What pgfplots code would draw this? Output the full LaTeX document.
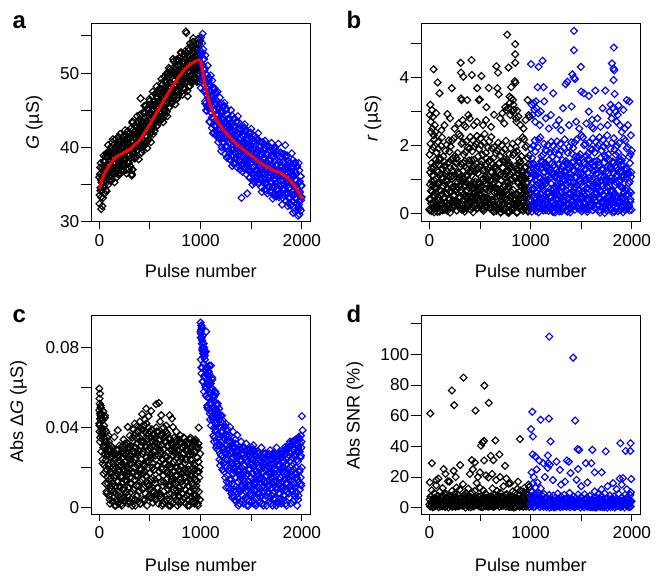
\documentclass[border=0pt]{standalone}
\usepackage{fontspec}
\setmainfont{Liberation Sans}
\usepackage{pgfplots}
\usepackage{pgfplotstable}
\pgfplotsset{compat=1.18}

\pgfplotsset{
  panel/.style={
    scale only axis, width=218.3bp, height=198.4bp, anchor=south west,
    xmin=-75, xmax=2080,
    xtick={0,500,...,2000}, xticklabels={0,,1000,,2000},
    xtick pos=bottom, ytick pos=left, tick align=outside,
    major tick length=9bp,
    xtick style={/pgfplots/major tick length=7bp},
    ytick style={/pgfplots/major tick length=11bp},
    axis line style={line width=0.9bp},
    tick style={line width=0.9bp, black},
    tick label style={font=\fontsize{17.3}{20}\selectfont},
    label style={font=\fontsize{18.2}{22}\selectfont},
    /pgf/number format/assume math mode=true,
    xlabel={Pulse number},
    ylabel style={anchor=center},
    clip marker paths=true,
  },
  dots/.style={only marks, mark=square, mark size=2.45bp,
    mark options={rotate=45, line width=1.15bp}},
}

\begin{document}
% a: conductance, potentiation (black) and depression (blue); two interleaved samplings
\pgfplotstableread[row sep=\\,header=false]{
36.0\\33.6\\37.3\\34.6\\35.6\\31.7\\36.3\\34.2\\35.2\\33.2\\
36.1\\38.1\\34.7\\37.4\\36.4\\38.8\\35.5\\36.9\\34.1\\37.7\\
38.8\\36.9\\37.6\\35.6\\39.5\\36.6\\38.1\\36.2\\39.2\\37.3\\
37.1\\38.5\\40.7\\37.4\\36.6\\39.2\\38.0\\39.6\\37.7\\38.9\\
39.1\\36.5\\39.9\\39.3\\37.3\\38.8\\40.5\\38.1\\37.7\\40.8\\
39.8\\37.8\\40.9\\38.7\\39.5\\36.9\\40.1\\38.3\\39.2\\37.5\\
39.0\\41.0\\37.6\\40.3\\39.3\\41.7\\38.4\\39.8\\37.0\\40.6\\
41.1\\39.2\\39.9\\37.9\\41.8\\38.9\\40.4\\38.5\\41.5\\39.6\\
36.2\\37.0\\43.5\\39.5\\38.6\\41.7\\40.3\\42.2\\39.9\\41.3\\
41.8\\38.7\\42.7\\42.0\\39.6\\41.4\\43.5\\40.6\\40.1\\43.8\\
43.0\\40.4\\46.6\\41.6\\42.7\\39.3\\43.4\\41.1\\42.3\\40.1\\
42.3\\44.7\\40.6\\43.9\\42.7\\45.6\\41.6\\43.3\\39.9\\44.2\\
45.3\\42.8\\43.7\\41.1\\46.2\\42.4\\44.4\\41.9\\45.8\\43.3\\
43.2\\44.9\\47.5\\43.5\\42.6\\45.7\\44.3\\46.2\\43.9\\45.3\\
45.9\\42.8\\46.8\\46.1\\43.7\\45.5\\47.6\\44.7\\44.2\\47.9\\
47.3\\44.9\\48.6\\45.9\\46.9\\43.8\\47.6\\45.5\\46.5\\44.5\\
46.6\\49.0\\44.9\\48.2\\47.0\\49.9\\45.9\\47.6\\44.2\\48.5\\
49.6\\47.1\\48.0\\45.4\\50.5\\46.7\\48.7\\46.2\\50.1\\47.6\\
47.3\\49.1\\51.9\\47.7\\46.6\\50.0\\48.4\\50.5\\48.1\\49.6\\
49.9\\46.5\\51.0\\50.2\\47.6\\49.5\\51.7\\48.6\\48.1\\52.1\\
51.1\\48.3\\52.7\\49.6\\50.7\\47.1\\51.5\\49.0\\50.3\\47.9\\
49.9\\52.9\\47.8\\51.9\\50.4\\55.4\\49.0\\51.1\\46.9\\52.3\\
53.0\\50.1\\51.2\\48.2\\54.0\\49.7\\51.9\\49.1\\53.6\\50.7\\
50.0\\51.8\\54.7\\50.4\\49.3\\52.7\\51.1\\53.2\\50.8\\52.3\\
52.2\\48.8\\53.3\\52.5\\49.9\\51.8\\54.0\\50.9\\50.4\\54.4\\
}\aBlk
\pgfplotstableread[row sep=\\,header=false]{
32.4\\36.4\\34.2\\37.9\\33.3\\35.3\\37.2\\32.1\\36.0\\34.6\\
38.9\\34.6\\37.2\\33.8\\38.1\\36.4\\34.2\\39.2\\35.3\\37.4\\
36.6\\40.3\\35.0\\37.7\\39.4\\36.1\\38.3\\35.5\\40.0\\36.9\\
35.6\\39.6\\37.4\\41.1\\36.5\\38.5\\40.4\\35.3\\39.2\\37.8\\
41.1\\36.8\\39.4\\36.0\\40.3\\38.6\\36.4\\41.4\\37.5\\39.6\\
38.1\\41.8\\36.5\\39.2\\40.9\\37.6\\39.8\\37.0\\41.5\\38.4\\
36.8\\40.8\\38.6\\42.3\\37.7\\39.7\\41.6\\36.5\\40.4\\39.0\\
42.2\\37.9\\40.5\\37.1\\41.4\\39.7\\37.5\\42.5\\38.6\\40.7\\
36.4\\43.3\\37.0\\40.7\\42.4\\39.1\\41.3\\38.5\\43.0\\39.9\\
38.7\\42.7\\40.5\\44.2\\39.6\\41.6\\43.5\\38.4\\42.3\\40.9\\
44.4\\40.1\\42.7\\39.3\\43.6\\41.9\\39.7\\44.7\\40.8\\42.9\\
41.9\\45.6\\40.3\\43.0\\44.7\\41.4\\43.6\\40.8\\45.3\\42.2\\
41.0\\45.0\\42.8\\46.5\\41.9\\43.9\\45.8\\40.7\\44.6\\43.2\\
46.9\\42.6\\45.2\\41.8\\46.1\\44.4\\42.2\\47.2\\43.3\\45.4\\
44.5\\48.2\\42.9\\45.6\\47.3\\44.0\\46.2\\43.4\\47.9\\44.8\\
43.7\\47.7\\45.5\\49.2\\44.6\\46.6\\48.5\\43.4\\47.3\\45.9\\
49.5\\45.2\\47.8\\44.4\\48.7\\47.0\\44.8\\49.8\\45.9\\48.0\\
47.0\\50.7\\45.4\\48.1\\49.8\\46.5\\48.7\\45.9\\50.4\\47.3\\
46.1\\50.1\\47.9\\51.6\\47.0\\49.0\\50.9\\45.8\\49.7\\48.3\\
51.8\\47.5\\50.1\\46.7\\51.0\\49.3\\47.1\\52.1\\48.2\\50.3\\
49.1\\52.8\\47.5\\50.2\\51.9\\48.6\\50.8\\48.0\\52.5\\49.4\\
47.9\\51.9\\49.7\\55.6\\48.8\\50.8\\52.7\\47.6\\51.5\\50.1\\
53.4\\49.1\\51.7\\48.3\\52.6\\50.9\\48.7\\53.7\\49.8\\51.9\\
50.5\\54.2\\48.9\\51.6\\53.3\\50.0\\52.2\\49.4\\53.9\\50.8\\
49.1\\53.1\\50.9\\54.6\\50.0\\52.0\\53.9\\48.8\\52.7\\51.3\\
}\aBlkB
\pgfplotstableread[row sep=\\,header=false]{
53.0\\54.8\\51.2\\52.6\\50.1\\55.3\\49.6\\51.9\\48.4\\50.7\\
49.2\\46.2\\52.4\\47.6\\48.8\\44.9\\49.7\\47.0\\48.3\\45.8\\
45.6\\48.6\\43.5\\47.6\\46.1\\49.7\\44.7\\46.8\\42.6\\48.0\\
46.8\\43.9\\45.0\\42.0\\47.8\\43.5\\45.7\\42.9\\47.4\\44.5\\
42.1\\44.2\\47.5\\42.5\\41.3\\45.2\\43.4\\45.8\\43.0\\44.8\\
43.4\\39.5\\44.6\\43.7\\40.7\\43.0\\45.5\\41.9\\41.3\\46.0\\
43.3\\40.1\\45.0\\41.5\\42.8\\38.6\\43.8\\40.9\\42.3\\39.6\\
40.7\\43.9\\38.4\\42.7\\41.1\\45.0\\39.7\\41.9\\37.5\\43.2\\
42.8\\39.7\\40.9\\37.7\\43.9\\39.3\\41.7\\38.6\\43.4\\40.4\\
38.4\\40.7\\44.2\\38.9\\37.6\\41.8\\39.9\\42.4\\39.4\\41.3\\
40.3\\33.2\\41.6\\40.7\\37.5\\39.9\\42.6\\38.7\\38.1\\43.1\\
40.5\\37.3\\42.2\\38.7\\40.0\\33.8\\41.0\\38.1\\39.5\\36.8\\
38.2\\41.4\\35.9\\40.2\\38.6\\42.5\\37.2\\39.4\\35.0\\40.7\\
40.4\\37.3\\38.5\\35.3\\41.5\\36.9\\39.3\\36.2\\41.0\\38.0\\
36.1\\38.4\\41.9\\36.6\\35.3\\39.5\\37.6\\40.1\\37.1\\39.0\\
38.1\\34.0\\39.4\\38.5\\35.3\\37.7\\40.4\\36.5\\35.9\\40.9\\
38.5\\35.3\\40.2\\36.7\\38.0\\33.8\\39.0\\36.1\\37.5\\34.8\\
36.3\\39.5\\34.0\\38.3\\36.7\\40.6\\35.3\\37.5\\33.1\\38.8\\
38.8\\35.6\\36.8\\33.4\\40.0\\35.1\\37.6\\34.4\\39.5\\36.3\\
34.4\\36.8\\40.5\\34.9\\33.6\\38.0\\36.0\\38.7\\35.5\\37.5\\
36.7\\32.3\\38.0\\37.0\\33.6\\36.2\\39.1\\35.0\\34.3\\40.3\\
37.1\\33.7\\38.9\\35.2\\36.6\\32.1\\37.6\\34.5\\36.0\\33.1\\
34.6\\38.0\\32.2\\36.8\\35.1\\39.2\\33.6\\36.0\\31.2\\37.3\\
36.8\\33.6\\34.8\\31.4\\38.0\\33.1\\35.6\\32.4\\37.5\\34.3\\
31.8\\34.2\\37.9\\32.3\\31.0\\35.4\\33.4\\36.1\\32.9\\34.9\\
}\aBlu
\pgfplotstableread[row sep=\\,header=false]{
48.0\\52.3\\50.0\\54.0\\49.0\\51.1\\53.2\\47.6\\51.9\\50.4\\
50.6\\45.9\\48.8\\45.0\\49.8\\47.9\\45.5\\51.0\\46.7\\49.0\\
45.2\\49.3\\43.4\\46.4\\48.3\\44.7\\47.1\\44.0\\49.0\\45.5\\
41.9\\46.3\\43.9\\48.0\\42.9\\45.1\\47.2\\41.6\\45.9\\44.4\\
46.3\\41.6\\44.5\\40.7\\45.5\\43.6\\41.2\\46.7\\42.4\\44.7\\
41.8\\45.9\\40.0\\43.0\\44.9\\41.3\\43.7\\40.6\\45.6\\42.1\\
39.1\\43.5\\41.1\\45.2\\40.1\\42.3\\44.4\\38.8\\43.1\\41.6\\
43.9\\39.2\\42.1\\38.3\\43.1\\41.2\\38.8\\44.3\\40.0\\42.3\\
39.7\\43.8\\37.9\\40.9\\42.8\\39.2\\41.6\\38.5\\43.5\\40.0\\
37.3\\41.7\\39.3\\43.4\\38.3\\40.5\\42.6\\37.0\\41.3\\39.8\\
42.3\\37.6\\40.5\\36.7\\41.5\\39.6\\37.2\\42.7\\38.4\\40.7\\
38.2\\42.3\\36.4\\39.4\\41.3\\37.7\\40.1\\37.0\\42.0\\38.5\\
35.9\\40.3\\37.9\\42.0\\36.9\\39.1\\41.2\\35.6\\39.9\\38.4\\
40.9\\36.2\\39.1\\35.3\\40.1\\38.2\\35.8\\41.3\\37.0\\39.3\\
36.9\\41.0\\35.1\\38.1\\40.0\\36.4\\38.8\\35.7\\40.7\\37.2\\
34.6\\39.0\\36.6\\40.7\\35.6\\37.8\\39.9\\34.3\\38.6\\37.1\\
39.8\\35.1\\38.0\\34.2\\39.0\\37.1\\34.7\\40.2\\35.9\\38.2\\
35.9\\40.0\\34.1\\37.1\\39.0\\35.4\\37.8\\34.7\\39.7\\36.2\\
33.7\\38.1\\35.7\\39.8\\34.7\\36.9\\39.0\\33.4\\37.7\\36.2\\
38.9\\34.2\\37.1\\33.3\\38.1\\36.2\\33.8\\39.3\\35.0\\37.3\\
35.0\\39.1\\33.2\\36.2\\38.1\\34.5\\36.9\\33.8\\38.8\\35.3\\
32.8\\37.2\\34.8\\38.9\\33.8\\36.0\\38.1\\32.5\\36.8\\35.3\\
37.9\\33.2\\36.1\\32.3\\37.1\\35.2\\32.8\\38.3\\34.0\\36.3\\
33.6\\37.7\\31.8\\34.8\\36.7\\33.1\\35.5\\32.4\\37.4\\33.9\\
30.8\\35.2\\32.8\\36.9\\31.8\\34.0\\36.1\\31.5\\34.8\\33.3\\
}\aBluB
% b: r (uS)
\pgfplotstableread[row sep=\\,header=false]{
0.42\\1.73\\0.08\\1.21\\2.05\\0.66\\0.29\\1.48\\0.95\\1.87\\
1.12\\0.17\\0.83\\1.95\\0.51\\1.36\\0.03\\2.18\\0.74\\0.35\\
0.61\\1.58\\1.02\\0.24\\1.79\\0.12\\1.27\\0.88\\2.11\\0.47\\
1.91\\0.38\\1.44\\0.69\\0.05\\1.63\\0.92\\0.21\\1.16\\1.99\\
0.27\\1.05\\2.24\\0.56\\1.31\\0.81\\1.68\\0.14\\0.45\\1.52\\
0.89\\0.11\\1.39\\1.84\\0.33\\0.98\\0.58\\2.02\\1.25\\0.07\\
1.47\\0.72\\0.19\\1.11\\2.15\\0.39\\1.82\\0.64\\0.26\\1.34\\
1.97\\0.85\\1.58\\0.19\\0.76\\2.15\\1.11\\0.18\\1.63\\0.52\\
0.37\\2.21\\0.78\\1.37\\0.22\\1.69\\0.34\\1.12\\1.48\\0.71\\
1.62\\0.35\\0.24\\1.78\\0.91\\1.21\\0.46\\2.34\\1.15\\0.17\\
0.45\\0.84\\2.28\\0.13\\1.46\\0.61\\2.05\\0.93\\0.27\\1.02\\
2.09\\1.26\\0.11\\1.02\\1.73\\0.15\\0.79\\1.54\\0.48\\1.81\\
0.17\\1.35\\2.12\\0.68\\1.08\\0.43\\1.94\\1.29\\0.21\\0.99\\
1.44\\0.36\\0.74\\1.92\\0.49\\2.25\\1.21\\0.29\\0.82\\1.57\\
0.52\\1.83\\0.18\\1.31\\2.15\\0.56\\0.39\\1.58\\0.85\\1.97\\
1.22\\0.27\\0.93\\2.05\\0.41\\1.46\\0.13\\2.28\\0.64\\0.45\\
0.71\\1.68\\0.92\\0.34\\1.89\\0.22\\1.37\\0.78\\2.21\\0.57\\
2.01\\0.28\\1.54\\0.79\\0.15\\1.73\\1.02\\0.11\\1.26\\2.09\\
0.37\\0.95\\2.34\\0.46\\1.41\\0.71\\1.78\\0.24\\0.35\\1.62\\
0.99\\0.21\\1.29\\1.94\\0.43\\1.08\\0.68\\2.12\\1.35\\0.17\\
1.57\\0.82\\0.29\\1.21\\2.25\\0.49\\1.92\\0.74\\0.36\\1.44\\
0.32\\1.63\\0.04\\1.11\\1.95\\0.76\\0.19\\1.38\\1.05\\1.77\\
1.02\\0.07\\0.73\\1.85\\0.61\\1.26\\0.13\\2.08\\0.84\\0.25\\
0.51\\1.48\\1.12\\0.14\\1.69\\0.02\\1.17\\0.98\\2.01\\0.37\\
1.81\\0.48\\1.34\\0.59\\0.09\\1.53\\0.82\\0.31\\1.06\\1.89\\
0.17\\1.15\\2.14\\0.66\\1.21\\0.91\\1.58\\0.04\\0.55\\1.42\\
0.79\\0.01\\1.49\\1.74\\0.23\\0.88\\0.48\\1.92\\1.15\\0.12\\
1.37\\0.62\\0.09\\1.01\\2.05\\0.29\\1.72\\0.54\\0.16\\1.24\\
1.77\\1.05\\1.38\\0.39\\0.56\\1.95\\1.31\\0.02\\1.83\\0.32\\
0.27\\2.11\\0.88\\1.27\\0.32\\1.59\\0.44\\1.02\\1.38\\0.81\\
1.52\\0.45\\0.14\\1.68\\1.01\\1.11\\0.56\\2.24\\1.25\\0.07\\
0.35\\0.74\\2.18\\0.23\\1.36\\0.71\\1.95\\1.03\\0.17\\1.12\\
1.99\\1.16\\0.21\\0.92\\1.63\\0.05\\0.69\\1.44\\0.38\\1.71\\
0.57\\1.25\\0.14\\
}\bBlk
\pgfplotstableread[row sep=\\,header=false]{
0.12\\0.85\\0.41\\1.33\\0.06\\0.64\\1.12\\0.28\\0.97\\0.51\\
1.45\\0.19\\0.73\\0.04\\1.21\\0.38\\0.88\\1.58\\0.23\\0.67\\
0.31\\1.02\\0.09\\0.79\\1.39\\0.47\\0.15\\1.17\\0.58\\0.93\\
0.71\\0.26\\1.51\\0.44\\0.02\\1.08\\0.63\\0.35\\1.27\\0.17\\
1.06\\0.53\\0.21\\0.91\\1.62\\0.08\\0.77\\0.33\\1.19\\0.46\\
0.24\\1.37\\0.68\\0.11\\0.95\\0.39\\1.48\\0.57\\0.05\\0.83\\
0.92\\0.14\\1.14\\0.49\\0.29\\1.56\\0.36\\0.81\\0.10\\1.25\\
0.43\\0.75\\0.03\\1.41\\0.62\\0.20\\1.03\\0.54\\1.31\\0.16\\
1.18\\0.37\\0.87\\0.22\\0.70\\1.44\\0.13\\0.98\\0.48\\0.07\\
0.59\\1.29\\0.32\\1.07\\0.18\\0.84\\0.45\\1.53\\0.27\\0.74\\
0.14\\0.96\\1.23\\0.40\\0.86\\0.09\\1.35\\0.61\\0.25\\1.10\\
1.33\\0.50\\0.18\\0.72\\1.47\\0.30\\0.66\\0.04\\1.16\\0.55\\
0.26\\1.11\\0.63\\1.59\\0.12\\0.80\\0.42\\1.26\\0.34\\0.90\\
0.78\\0.06\\1.40\\0.35\\0.99\\0.52\\0.17\\1.20\\0.69\\0.28\\
1.09\\0.44\\0.24\\1.30\\0.58\\0.03\\0.92\\0.38\\1.50\\0.65\\
0.21\\1.24\\0.76\\0.11\\1.05\\0.47\\0.82\\0.15\\1.36\\0.56\\
0.89\\0.31\\1.15\\0.08\\0.60\\
}\bBlkB
\pgfplotstableread[row sep=\\,header=false]{
1.91\\0.38\\1.44\\0.69\\0.05\\1.63\\0.92\\0.21\\1.16\\1.99\\
1.47\\0.72\\0.19\\1.11\\2.15\\0.39\\1.82\\0.64\\0.26\\1.34\\
1.12\\0.17\\0.83\\1.95\\0.51\\1.36\\0.03\\2.18\\0.74\\0.35\\
0.27\\1.05\\2.24\\0.56\\1.31\\0.81\\1.68\\0.14\\0.45\\1.52\\
0.42\\1.73\\0.08\\1.21\\2.05\\0.66\\0.29\\1.48\\0.95\\1.87\\
0.89\\0.11\\1.39\\1.84\\0.33\\0.98\\0.58\\2.02\\1.25\\0.07\\
0.61\\1.58\\1.02\\0.24\\1.79\\0.12\\1.27\\0.88\\2.11\\0.47\\
0.36\\1.67\\0.06\\1.15\\1.99\\0.72\\0.23\\1.42\\1.09\\1.81\\
1.06\\0.03\\0.77\\1.89\\0.57\\1.30\\0.17\\2.12\\0.88\\0.21\\
0.55\\1.44\\1.16\\0.10\\1.73\\0.06\\1.13\\1.02\\2.05\\0.33\\
1.85\\0.44\\1.30\\0.63\\0.13\\1.57\\0.78\\0.35\\1.02\\1.93\\
0.21\\1.11\\2.18\\0.62\\1.25\\0.87\\1.54\\0.08\\0.51\\1.46\\
0.83\\0.05\\1.45\\1.78\\0.27\\0.92\\0.44\\1.96\\1.19\\0.16\\
1.41\\0.58\\0.13\\1.05\\2.09\\0.25\\1.76\\0.50\\0.20\\1.28\\
1.93\\0.91\\1.52\\0.25\\0.70\\2.09\\1.07\\0.22\\1.67\\0.48\\
0.41\\2.17\\0.82\\1.41\\0.18\\1.65\\0.38\\1.16\\1.52\\0.67\\
1.66\\0.31\\0.28\\1.74\\0.95\\1.17\\0.50\\2.30\\1.19\\0.13\\
0.49\\0.80\\2.24\\0.17\\1.50\\0.57\\2.01\\0.97\\0.31\\1.06\\
2.05\\1.30\\0.15\\0.98\\1.69\\0.11\\0.75\\1.58\\0.44\\1.77\\
0.13\\1.39\\2.08\\0.72\\1.04\\0.47\\1.90\\1.33\\0.25\\0.95\\
1.48\\0.32\\0.78\\1.88\\0.53\\2.21\\1.25\\0.25\\0.86\\1.53\\
0.58\\1.79\\0.14\\1.27\\2.11\\0.60\\0.35\\1.54\\0.81\\1.93\\
1.18\\0.23\\0.89\\2.01\\0.45\\1.42\\0.09\\2.24\\0.68\\0.41\\
0.67\\1.64\\0.96\\0.30\\1.85\\0.18\\1.33\\0.82\\2.17\\0.53\\
1.97\\0.32\\1.50\\0.75\\0.01\\1.69\\0.98\\0.15\\1.22\\2.05\\
0.33\\0.99\\2.30\\0.50\\1.37\\0.75\\1.74\\0.20\\0.39\\1.58\\
0.95\\0.15\\1.33\\1.90\\0.39\\1.04\\0.62\\2.08\\1.31\\0.03\\
1.53\\0.66\\0.23\\1.17\\2.21\\0.33\\1.88\\0.58\\0.30\\1.40\\
1.73\\1.09\\1.34\\0.43\\0.52\\1.99\\1.27\\0.06\\1.79\\0.36\\
0.31\\2.07\\0.92\\1.23\\0.36\\1.55\\0.48\\0.98\\1.42\\0.77\\
1.56\\0.41\\0.18\\1.64\\1.05\\1.07\\0.60\\2.20\\1.29\\0.11\\
0.39\\0.70\\2.14\\0.27\\1.32\\0.75\\1.91\\1.07\\0.13\\1.16\\
1.95\\1.20\\0.25\\0.88\\1.67\\0.09\\0.65\\1.48\\0.34\\1.75\\
0.61\\1.21\\0.10\\1.85\\
}\bBlu
\pgfplotstableread[row sep=\\,header=false]{
1.18\\0.37\\0.87\\0.22\\0.70\\1.44\\0.13\\0.98\\0.48\\0.07\\
0.59\\1.29\\0.32\\1.07\\0.18\\0.84\\0.45\\1.53\\0.27\\0.74\\
0.14\\0.96\\1.23\\0.40\\0.86\\0.09\\1.35\\0.61\\0.25\\1.10\\
1.33\\0.50\\0.18\\0.72\\1.47\\0.30\\0.66\\0.04\\1.16\\0.55\\
0.26\\1.11\\0.63\\1.59\\0.12\\0.80\\0.42\\1.26\\0.34\\0.90\\
0.78\\0.06\\1.40\\0.35\\0.99\\0.52\\0.17\\1.20\\0.69\\0.28\\
1.09\\0.44\\0.24\\1.30\\0.58\\0.03\\0.92\\0.38\\1.50\\0.65\\
0.21\\1.24\\0.76\\0.11\\1.05\\0.47\\0.82\\0.15\\1.36\\0.56\\
0.12\\0.85\\0.41\\1.33\\0.06\\0.64\\1.12\\0.28\\0.97\\0.51\\
1.45\\0.19\\0.73\\0.04\\1.21\\0.38\\0.88\\1.58\\0.23\\0.67\\
0.31\\1.02\\0.09\\0.79\\1.39\\0.47\\0.15\\1.17\\0.58\\0.93\\
0.71\\0.26\\1.51\\0.44\\0.02\\1.08\\0.63\\0.35\\1.27\\0.17\\
1.06\\0.53\\0.21\\0.91\\1.62\\0.08\\0.77\\0.33\\1.19\\0.46\\
0.24\\1.37\\0.68\\0.11\\0.95\\0.39\\1.48\\0.57\\0.05\\0.83\\
0.92\\0.14\\1.14\\0.49\\0.29\\1.56\\0.36\\0.81\\0.10\\1.25\\
0.43\\0.75\\0.03\\1.41\\0.62\\0.20\\1.03\\0.54\\1.31\\0.16\\
0.57\\1.19\\0.22\\0.94\\0.41\\1.08\\
}\bBluB
% c: |dG| in nS (0.04 uS = 40 nS)
\pgfplotstableread[row sep=\\,header=false]{
42\\38\\47\\35\\44\\51\\40\\36\\45\\39\\
38\\22\\44\\30\\17\\35\\41\\27\\33\\46\\
12\\31\\24\\38\\8\\19\\35\\27\\15\\29\\
21\\6\\33\\14\\28\\2\\18\\31\\10\\25\\
9\\26\\17\\3\\30\\22\\12\\28\\5\\19\\
15\\1\\24\\11\\27\\7\\20\\4\\17\\25\\
23\\13\\2\\29\\8\\18\\26\\11\\21\\5\\
4\\21\\30\\16\\1\\25\\12\\31\\9\\19\\
27\\10\\18\\3\\29\\14\\23\\7\\31\\16\\
13\\28\\6\\20\\32\\2\\17\\25\\10\\22\\
19\\3\\26\\12\\31\\8\\22\\15\\1\\28\\
33\\18\\39\\9\\27\\36\\14\\24\\4\\30\\
25\\37\\11\\32\\6\\21\\38\\16\\29\\3\\
8\\28\\35\\19\\40\\13\\2\\31\\24\\17\\
36\\14\\27\\4\\39\\22\\10\\33\\18\\41\\
21\\38\\7\\30\\16\\42\\25\\1\\34\\12\\
29\\11\\40\\23\\6\\35\\17\\38\\9\\26\\
14\\33\\5\\27\\39\\20\\8\\31\\22\\36\\
37\\19\\28\\4\\35\\12\\24\\40\\7\\30\\
10\\32\\21\\38\\2\\26\\15\\34\\18\\6\\
27\\5\\36\\13\\31\\20\\1\\24\\37\\11\\
16\\29\\8\\35\\22\\3\\33\\12\\26\\38\\
33\\14\\25\\6\\37\\18\\28\\9\\21\\1\\
7\\24\\34\\17\\11\\29\\3\\20\\32\\13\\
22\\2\\15\\30\\26\\9\\35\\18\\5\\27\\
12\\31\\20\\4\\33\\16\\25\\1\\29\\8\\
28\\6\\34\\19\\10\\23\\14\\32\\3\\21\\
3\\25\\13\\30\\17\\7\\27\\11\\35\\19\\
31\\15\\9\\24\\2\\33\\18\\28\\6\\13\\
17\\29\\4\\11\\32\\21\\1\\26\\14\\34\\
24\\8\\30\\16\\5\\27\\12\\33\\20\\3\\
9\\22\\33\\2\\28\\14\\19\\6\\31\\11\\
30\\13\\5\\25\\18\\1\\32\\23\\8\\15\\
20\\4\\27\\
}\cBlk
\pgfplotstableread[row sep=\\,header=false]{
41\\33\\46\\28\\37\\24\\44\\31\\21\\39\\
18\\33\\7\\26\\12\\36\\22\\4\\29\\15\\
11\\27\\3\\20\\8\\24\\16\\1\\29\\13\\
26\\6\\19\\31\\10\\23\\2\\15\\28\\9\\
5\\21\\32\\14\\27\\8\\18\\30\\3\\24\\
30\\12\\24\\4\\35\\17\\9\\28\\20\\1\\
16\\35\\6\\27\\38\\11\\22\\2\\33\\19\\
39\\9\\28\\17\\41\\4\\31\\23\\13\\36\\
20\\37\\11\\30\\5\\25\\39\\15\\33\\8\\
34\\14\\26\\4\\38\\21\\10\\31\\18\\29\\
7\\28\\36\\19\\2\\24\\13\\33\\22\\38\\
25\\4\\17\\31\\11\\35\\20\\1\\29\\14\\
31\\12\\23\\6\\28\\16\\34\\9\\20\\3\\
10\\26\\2\\33\\15\\24\\7\\30\\18\\35\\
22\\5\\29\\13\\32\\1\\19\\27\\8\\16\\
28\\17\\3\\24\\11\\31\\6\\21\\33\\14\\
9\\25\\2\\30\\18\\
}\cBlkB
\pgfplotstableread[row sep=\\,header=false]{
88\\74\\91\\67\\82\\79\\70\\86\\63\\77\\
72\\58\\80\\65\\76\\61\\69\\56\\78\\67\\
60\\70\\51\\66\\55\\63\\49\\68\\58\\71\\
52\\44\\63\\57\\41\\60\\48\\54\\65\\46\\
45\\56\\36\\50\\40\\53\\35\\47\\58\\42\\
39\\30\\49\\43\\33\\51\\29\\45\\37\\47\\
35\\44\\24\\31\\40\\27\\46\\33\\23\\38\\
26\\38\\19\\42\\30\\22\\35\\18\\40\\28\\
34\\15\\27\\39\\20\\31\\13\\36\\24\\29\\
19\\33\\10\\26\\36\\14\\29\\9\\23\\31\\
28\\7\\22\\33\\12\\25\\6\\30\\17\\20\\
11\\30\\19\\4\\26\\32\\15\\8\\23\\28\\
22\\5\\28\\13\\1\\18\\26\\9\\30\\16\\
8\\24\\15\\29\\3\\20\\11\\27\\6\\17\\
27\\14\\2\\21\\30\\10\\18\\5\\25\\12\\
16\\28\\9\\4\\23\\13\\29\\19\\1\\25\\
3\\19\\26\\11\\7\\28\\15\\22\\10\\30\\
24\\6\\17\\29\\14\\2\\21\\12\\27\\8\\
13\\26\\1\\18\\22\\9\\28\\5\\16\\20\\
20\\10\\27\\7\\15\\24\\3\\19\\12\\26\\
6\\23\\14\\25\\2\\18\\11\\27\\8\\21\\
25\\4\\19\\12\\27\\9\\22\\1\\16\\13\\
11\\21\\7\\26\\17\\3\\24\\14\\20\\5\\
18\\2\\25\\10\\22\\15\\6\\27\\12\\24\\
26\\13\\4\\19\\8\\27\\16\\10\\23\\1\\
9\\24\\17\\3\\21\\12\\26\\7\\18\\14\\
21\\7\\28\\15\\11\\25\\2\\19\\13\\27\\
4\\18\\10\\26\\20\\6\\23\\14\\28\\9\\
27\\12\\22\\1\\29\\17\\8\\25\\15\\30\\
14\\30\\5\\23\\33\\11\\20\\2\\27\\18\\
31\\8\\25\\16\\3\\29\\19\\12\\33\\6\\
10\\26\\34\\20\\7\\32\\15\\24\\1\\28\\
23\\4\\30\\13\\35\\18\\28\\9\\32\\15\\
26\\11\\33\\20\\
}\cBlu
\pgfplotstableread[row sep=\\,header=false]{
85\\70\\90\\63\\78\\82\\66\\74\\60\\88\\
62\\50\\70\\55\\67\\47\\59\\71\\52\\64\\
44\\55\\33\\49\\38\\57\\41\\31\\52\\46\\
32\\44\\21\\38\\26\\46\\19\\35\\29\\41\\
23\\36\\10\\29\\16\\39\\12\\33\\20\\27\\
14\\28\\5\\22\\31\\9\\18\\34\\3\\25\\
26\\7\\19\\29\\2\\14\\23\\10\\30\\16\\
4\\21\\13\\28\\8\\24\\1\\17\\27\\11\\
19\\29\\6\\15\\25\\3\\22\\12\\28\\9\\
12\\2\\24\\17\\7\\27\\14\\20\\5\\23\\
25\\10\\18\\1\\22\\13\\27\\6\\16\\21\\
8\\20\\27\\11\\3\\17\\24\\15\\1\\26\\
17\\5\\22\\26\\13\\9\\19\\2\\24\\11\\
27\\15\\3\\20\\10\\28\\6\\23\\14\\18\\
2\\24\\30\\12\\19\\7\\28\\16\\31\\9\\
21\\33\\11\\26\\4\\30\\17\\8\\32\\14\\
29\\6\\34\\19\\25\\12\\
}\cBluB
% d: |SNR| (%), every 4th pulse
\pgfplotstableread[row sep=\\,header=false]{
2.1\\5.4\\0.8\\7.2\\3.6\\1.5\\11.3\\4.3\\0.3\\6.1\\
4.8\\0.6\\9.4\\2.7\\6.5\\1.2\\3.9\\14.6\\5.7\\2.2\\
1.7\\7.8\\3.1\\0.4\\5.2\\10.5\\2.5\\6.9\\1.0\\4.4\\
6.3\\2.9\\0.9\\12.8\\4.1\\7.5\\1.9\\3.3\\8.7\\0.5\\
3.5\\9.1\\5.9\\1.4\\2.4\\6.7\\17.2\\0.2\\4.9\\7.0\\
2.6\\4.9\\1.3\\7.7\\3.1\\0.9\\10.8\\4.8\\0.7\\5.6\\
5.3\\1.1\\8.9\\2.2\\7.0\\0.7\\4.4\\13.1\\5.2\\2.7\\
1.2\\8.3\\2.6\\0.9\\5.7\\11.9\\2.0\\6.4\\1.5\\3.9\\
6.8\\2.4\\1.4\\15.3\\3.6\\8.0\\1.4\\3.8\\8.2\\0.1\\
3.0\\9.6\\5.4\\1.9\\1.9\\7.2\\12.4\\0.6\\4.4\\7.5\\
1.6\\5.9\\0.3\\6.7\\4.1\\2.0\\9.8\\3.8\\0.8\\6.6\\
4.3\\1.1\\10.9\\3.2\\6.0\\1.7\\3.4\\16.1\\6.2\\1.7\\
2.2\\7.3\\3.6\\0.9\\4.7\\13.0\\3.0\\7.4\\0.5\\4.9\\
5.8\\3.4\\0.4\\11.3\\4.6\\7.0\\2.4\\2.8\\9.2\\1.0\\
4.0\\8.6\\6.4\\0.9\\2.9\\6.2\\19.7\\0.7\\5.4\\6.5\\
1.9\\5.1\\1.1\\7.5\\3.3\\1.2\\12.6\\4.0\\0.5\\5.8\\
4.5\\0.9\\8.4\\2.4\\6.8\\1.5\\4.2\\10.9\\5.4\\2.5\\
2.0\\7.5\\3.4\\0.7\\5.5\\9.8\\2.8\\7.2\\1.3\\4.1\\
6.0\\3.2\\1.2\\14.0\\4.4\\7.2\\2.2\\3.0\\8.4\\0.8\\
3.8\\8.8\\6.2\\1.1\\2.7\\6.4\\15.7\\0.5\\4.6\\7.3\\
2.4\\5.7\\0.5\\6.9\\3.9\\1.8\\10.6\\4.6\\0.2\\6.4\\
5.1\\0.3\\9.7\\3.0\\6.2\\0.9\\3.6\\12.2\\6.0\\1.9\\
1.4\\8.1\\2.8\\0.7\\4.9\\11.2\\2.2\\6.6\\1.3\\4.7\\
6.6\\2.6\\0.6\\10.3\\3.8\\7.8\\1.6\\3.6\\8.9\\0.8\\
3.2\\9.4\\5.6\\1.7\\2.1\\7.0\\13.5\\0.5\\5.2\\6.7\\
}\dBlk
\pgfplotstableread[row sep=\\,header=false]{
2.9\\7.6\\1.1\\10.1\\5.0\\2.1\\15.8\\6.0\\0.4\\8.5\\
6.7\\0.8\\13.2\\3.8\\9.1\\1.7\\5.5\\16.4\\8.0\\3.1\\
2.0\\9.4\\3.7\\0.5\\6.2\\12.6\\3.0\\8.3\\1.2\\5.3\\
4.4\\2.0\\0.6\\9.0\\2.9\\5.3\\1.3\\2.3\\6.1\\0.4\\
2.5\\6.4\\4.1\\1.0\\1.7\\4.7\\8.3\\0.1\\3.4\\4.9\\
1.5\\3.8\\0.6\\5.0\\2.5\\1.1\\7.9\\3.0\\0.2\\4.3\\
3.4\\0.4\\6.6\\1.9\\4.6\\0.8\\2.7\\9.2\\4.0\\1.5\\
1.2\\5.5\\2.2\\0.3\\3.6\\7.4\\1.8\\4.8\\0.7\\3.1\\
4.7\\1.8\\0.9\\8.4\\2.6\\5.6\\1.1\\2.5\\5.8\\0.6\\
2.2\\6.7\\3.8\\1.3\\1.5\\5.0\\9.6\\0.3\\3.1\\5.2\\
1.8\\3.5\\0.9\\5.3\\2.2\\1.4\\7.2\\3.3\\0.4\\4.0\\
3.1\\0.7\\6.3\\2.2\\4.3\\1.1\\2.4\\8.6\\4.3\\1.2\\
1.5\\5.2\\2.5\\0.1\\3.9\\7.1\\2.1\\4.5\\1.0\\2.8\\
4.1\\2.3\\0.3\\8.7\\3.2\\5.0\\1.6\\2.0\\6.4\\0.7\\
2.8\\6.1\\4.4\\0.7\\2.0\\4.4\\7.7\\0.4\\3.7\\4.6\\
1.2\\4.1\\0.3\\5.3\\2.8\\0.8\\6.6\\2.7\\0.5\\4.6\\
3.7\\0.1\\6.9\\1.6\\4.9\\0.5\\3.0\\8.9\\3.7\\1.8\\
0.9\\5.8\\1.9\\0.6\\3.3\\7.7\\1.5\\5.1\\0.4\\3.4\\
5.0\\1.7\\0.3\\9.3\\3.2\\5.6\\1.0\\2.6\\5.8\\0.1\\
2.2\\6.1\\3.8\\1.3\\1.4\\5.0\\8.0\\0.4\\3.1\\5.2\\
1.9\\3.2\\0.7\\5.6\\1.9\\1.7\\7.5\\3.6\\0.1\\3.7\\
2.8\\0.9\\6.0\\2.5\\4.0\\1.4\\2.1\\9.0\\4.6\\0.9\\
1.7\\4.9\\2.8\\0.4\\4.2\\6.8\\2.4\\4.2\\1.3\\2.5\\
3.8\\2.6\\0.1\\8.4\\3.5\\4.7\\1.9\\1.7\\6.7\\1.0\\
3.1\\5.8\\4.7\\0.4\\2.3\\4.1\\8.3\\0.7\\4.0\\4.3\\
}\dBlu

\begin{tikzpicture}
\useasboundingbox (0,0) rectangle (657bp,-576bp);

% ---------- a ----------
\begin{axis}[panel, at={(91.7bp,-221.7bp)},
  ymin=30, ymax=56.7,
  ytick={30,35,...,55}, yticklabels={30,,40,,50,},
  ylabel={\textit{G} (µS)},
  ylabel style={at={(axis description cs:-0.264,0.5)}},
  xlabel style={at={(axis description cs:0.5,-0.248)}, anchor=center}]
\addplot[dots, black] table[x expr=\coordindex*4, y index=0] {\aBlk};
\addplot[dots, black] table[x expr=2+\coordindex*4, y index=0] {\aBlkB};
\addplot[dots, blue] table[x expr=1000+\coordindex*4, y index=0] {\aBlu};
\addplot[dots, blue] table[x expr=1002+\coordindex*4, y index=0] {\aBluB};
\addplot[red, line width=3bp, no marks] coordinates {
  (0,34.4)(30,35.8)(66,36.9)(100,37.6)(165,38.7)(230,39.2)(297,39.7)
  (396,40.9)(450,42.0)(495,43.0)(550,44.3)(594,45.3)(650,46.6)(693,47.6)
  (750,48.8)(792,49.6)(850,50.6)(891,51.1)(950,51.6)(990,51.8)};
\addplot[red, line width=3bp, no marks] coordinates {
  (1000,51.8)(1020,50.3)(1040,48.6)(1065,47.2)(1089,45.9)(1120,44.8)
  (1155,43.7)(1200,42.8)(1254,41.9)(1320,40.9)(1386,40.1)(1450,39.4)
  (1518,38.7)(1580,38.0)(1650,37.4)(1720,36.9)(1782,36.6)(1840,36.1)
  (1881,35.6)(1920,35.0)(1947,34.4)(1975,33.8)(2000,33.1)};
\end{axis}

% ---------- b ----------
\begin{axis}[panel, at={(421.7bp,-221.7bp)},
  ymin=-0.248, ymax=5.605,
  ytick={0,1,...,5}, yticklabels={0,,2,,4,},
  ylabel={\textit{r} (µS)},
  ylabel style={at={(axis description cs:-0.223,0.52)}},
  xlabel style={at={(axis description cs:0.5,-0.248)}, anchor=center}]
\addplot[dots, black] table[x expr=\coordindex*3, y index=0] {\bBlk};
\addplot[dots, black] table[x expr=1+\coordindex*6, y index=0] {\bBlkB};
\addplot[dots, black] coordinates {
  (5,2.9)(10,3.2)(15,2.7)(20,2.4)(26,3.05)(30,2.5)(35,2.85)(42,4.25)(45,2.3)
  (55,2.6)(60,2.4)(68,2.95)(82,3.86)(101,3.54)(120,2.45)(150,2.6)(179,2.93)
  (205,2.8)(222,3.69)(250,2.5)(290,2.65)(310,4.44)(313,4.15)(313,3.39)
  (318,3.34)(330,2.75)(336,4.03)(345,2.6)(360,2.55)(375,3.34)(385,2.9)
  (400,2.8)(417,4.52)(420,4.08)(440,2.6)(470,2.7)(473,3.69)(489,3.34)
  (499,3.36)(515,4.05)(530,2.6)(560,2.75)(564,3.13)(587,3.7)(610,2.55)
  (639,2.91)(662,4.34)(672,3.69)(678,4.15)(685,3.51)(700,2.8)(720,2.95)
  (740,2.65)(750,3.13)(760,3.05)(769,5.27)(780,3.1)(782,4.3)(792,3.44)
  (795,3.25)(800,2.9)(808,3.72)(810,3.4)(820,3.0)(825,3.34)(830,3.2)
  (835,3.05)(844,3.9)(848,4.44)(848,4.69)(848,4.99)(850,3.85)(857,2.8)
  (860,2.7)(867,3.03)(880,2.85)(900,2.6)(930,2.5)(950,2.75)(971,3.34)
  (981,2.9)(990,2.85)};
\addplot[dots, blue] table[x expr=1000+\coordindex*3, y index=0] {\bBlu};
\addplot[dots, blue] table[x expr=1001+\coordindex*6, y index=0] {\bBluB};
\addplot[dots, blue] coordinates {
  (1004,4.4)(1010,3.2)(1020,2.9)(1030,3.25)(1037,3.05)(1045,2.7)(1053,3.3)
  (1060,3.1)(1069,3.72)(1075,2.95)(1079,4.32)(1090,2.6)(1100,3.0)(1118,4.5)
  (1128,3.72)(1134,3.3)(1150,2.8)(1180,2.5)(1200,2.9)(1223,3.54)(1250,2.6)
  (1280,2.75)(1300,2.45)(1320,3.1)(1346,3.81)(1362,3.88)(1380,2.6)(1405,3.15)
  (1412,4.1)(1428,4.0)(1428,4.81)(1428,5.38)(1438,3.96)(1450,2.7)(1480,2.5)
  (1496,4.32)(1500,3.59)(1526,3.54)(1550,2.65)(1575,3.46)(1575,3.0)
  (1607,2.76)(1607,2.54)(1620,2.5)(1640,3.62)(1660,2.8)(1690,2.55)(1711,3.1)
  (1738,3.62)(1760,2.6)(1780,3.0)(1790,3.2)(1800,2.8)(1803,4.42)(1810,3.1)
  (1819,4.27)(1819,3.93)(1822,4.89)(1826,4.22)(1829,3.52)(1840,3.0)
  (1850,2.7)(1860,2.9)(1868,3.18)(1880,2.6)(1900,2.4)(1917,3.05)(1930,2.5)
  (1949,3.34)(1960,2.6)(1975,3.3)(1990,2.3)};
\end{axis}

% ---------- c ----------
\begin{axis}[panel, at={(91.7bp,-514bp)},
  ymin=-3.2, ymax=96.0,
  ytick={0,20,...,80}, yticklabels={0,,0.04,,0.08},
  ylabel={Abs Δ\textit{G} (µS)},
  ylabel style={at={(axis description cs:-0.336,0.515)}},
  xlabel style={at={(axis description cs:0.5,-0.257)}, anchor=center}]
\addplot[dots, black] table[x expr=\coordindex*3, y index=0] {\cBlk};
\addplot[dots, black] table[x expr=1+\coordindex*6, y index=0] {\cBlkB};
\addplot[dots, black] coordinates {
  (0,59.5)(7,57)(2,54.5)(4,52)(13,50)(0,48.7)(20,47)(10,44.5)(40,48)(55,45)
  (149,35.3)(182,38.7)(240,34)(281,40.3)(300,36)(331,39.5)(350,42)(370,40.8)
  (400,43)(423,46.7)(446,3.7)(450,44)(463,49.5)(486,45.7)(512,48.3)(529,2.5)
  (546,5.3)(562,51.7)(589,52.3)(600,43)(612,46.2)(635,40)(660,41)(694,46.2)
  (717,44.5)(727,40.3)(760,38)(800,36)(900,35)(950,34)(982,40)};
\addplot[dots, blue] table[x expr=1000+\coordindex*3, y index=0] {\cBlu};
\addplot[dots, blue] table[x expr=1001+\coordindex*6, y index=0] {\cBluB};
\addplot[dots, blue] coordinates {
  (1000,92.5)(1003,87)(1005,89)(1008,91)(1012,85)(1015,83.7)(1020,80)
  (1031,75.3)(1040,78)(1058,70.3)(1070,68)(1084,65.3)(1100,62)(1114,59.5)
  (1140,56)(1160,52)(1183,49.5)(1200,46)(1217,43.7)(1250,42)(1289,40.3)
  (1320,38)(1362,36.2)(1400,33)(1450,32)(1521,31.2)(1600,30)(1686,28.7)
  (1750,30)(1835,30.3)(1880,32)(1917,32.8)(1967,35.3)(1990,36)(1995,30)
  (2000,45.7)(2007,38.7)};
\end{axis}

% ---------- d ----------
\begin{axis}[panel, at={(421.7bp,-514bp)},
  ymin=-4.1, ymax=125.2,
  ytick={0,20,...,120}, yticklabels={0,20,40,60,80,100,},
  ylabel={Abs SNR (\%)},
  ylabel style={at={(axis description cs:-0.306,0.495)}},
  xlabel style={at={(axis description cs:0.5,-0.257)}, anchor=center}]
\addplot[dots, black] table[x expr=\coordindex*4, y index=0] {\dBlk};
\addplot[dots, black] coordinates {
  (5,16.5)(10,61.4)(26,29)(70,18)(90,19)(141,25.2)(160,22)(200,17)(223,76.4)
  (240,24)(246,66.8)(260,20)(305,27.8)(338,84.8)(400,22)(420,31)(430,25)
  (450,29.5)(456,63.3)(480,20)(500,23)(510,40.5)(525,42.5)(540,43.5)
  (541,30.8)(544,79.6)(560,21)(587,68.3)(607,33.8)(620,22)(633,31)(653,43.8)
  (660,18)(692,34.7)(700,20)(748,27.3)(760,19)(800,16)(876,17)(895,44.7)
  (940,13)(980,15)};
\addplot[dots, blue] table[x expr=1000+\coordindex*4, y index=0] {\dBlu};
\addplot[dots, blue] coordinates {
  (1004,51.2)(1010,23)(1017,62.5)(1020,34.7)(1023,46.4)(1030,20)(1046,33.4)
  (1060,25)(1086,30.6)(1099,57.3)(1125,29)(1140,20)(1170,26)(1171,34)
  (1174,29)(1181,58.1)(1184,111.5)(1190,28)(1197,43.2)(1220,18)(1256,30)
  (1289,24.7)(1300,15)(1340,17)(1358,30.8)(1378,30)(1394,22.6)(1420,97.8)
  (1440,56.8)(1453,18.2)(1463,38.2)(1469,25.2)(1479,37.7)(1500,14)
  (1545,29)(1561,16.5)(1600,29)(1610,37.7)(1633,23)(1633,10.6)(1700,12)
  (1702,23)(1742,36.7)(1760,14)(1814,16)(1850,12)(1880,19)(1886,42)
  (1900,15)(1912,19.3)(1938,37)(1950,12)(1984,37)(1987,42)(1990,10)
  (1994,18.7)};
\end{axis}

\node[font=\fontsize{24}{28}\selectfont\bfseries, anchor=base west] at (9bp,-28bp) {a};
\node[font=\fontsize{24}{28}\selectfont\bfseries, anchor=base west] at (343bp,-28bp) {b};
\node[font=\fontsize{24}{28}\selectfont\bfseries, anchor=base west] at (9bp,-322bp) {c};
\node[font=\fontsize{24}{28}\selectfont\bfseries, anchor=base west] at (343bp,-322bp) {d};
\end{tikzpicture}
\end{document}
